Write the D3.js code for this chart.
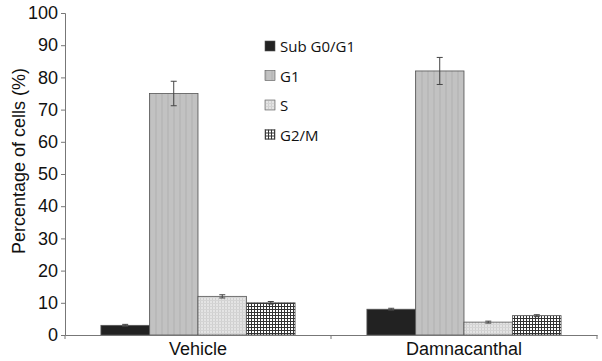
<!DOCTYPE html>
<html lang="en">
<head>
<meta charset="UTF-8">
<title>Cell cycle</title>
<script src="https://cdn.jsdelivr.net/npm/d3@7"></script>
<style>
    body { margin: 0; background: #fff; }
    svg { display: block; }
</style>
</head>
<body>
<div id="chart"></div>
<script>
// data
const groups = ["Vehicle", "Damnacanthal"];
const phases = ["Sub G0/G1", "G1", "S", "G2/M"];
const vehicle = [3, 75, 12, 10];
const vehicleErr = [0.3, 3.8, 0.5, 0.4];
const damna = [8, 82, 4, 6];
const damnaErr = [0.3, 4.2, 0.3, 0.3];
const yTicks = [0, 10, 20, 30, 40, 50, 60, 70, 80, 90, 100];

const width = 602, height = 361;
const margin = { top: 13, right: 5, bottom: 26, left: 65 };

const svg = d3.select("#chart").append("svg")
    .attr("width", width)
    .attr("height", height);

// patterns for the fills
const defs = svg.append("defs");
const pG1 = defs.append("pattern").attr("id", "pG1")
    .attr("patternUnits", "userSpaceOnUse").attr("width", 6).attr("height", 6);
pG1.append("rect").attr("width", 6).attr("height", 6).attr("fill", "#c2c2c2");
pG1.append("rect").attr("width", 2).attr("height", 6).attr("fill", "#b9b9b9");

const pS = defs.append("pattern").attr("id", "pS")
    .attr("patternUnits", "userSpaceOnUse").attr("width", 3).attr("height", 3);
pS.append("rect").attr("width", 3).attr("height", 3).attr("fill", "#e4e4e4");
pS.append("rect").attr("width", 1).attr("height", 3).attr("fill", "#cfcfcf");
pS.append("rect").attr("width", 3).attr("height", 1).attr("fill", "#d4d4d4");

const pG2 = defs.append("pattern").attr("id", "pG2")
    .attr("patternUnits", "userSpaceOnUse").attr("width", 3).attr("height", 3);
pG2.append("rect").attr("width", 3).attr("height", 3).attr("fill", "#ffffff");
pG2.append("rect").attr("width", 1).attr("height", 3).attr("fill", "#333");
pG2.append("rect").attr("width", 3).attr("height", 1).attr("fill", "#333");

const fills = ["#222222", "url(#pG1)", "url(#pS)", "url(#pG2)"];

const x0 = d3.scaleBand()
    .domain(groups)
    .range([margin.left, width - margin.right])
    .paddingInner(0)
    .paddingOuter(0);

const x1 = d3.scaleBand()
    .domain(phases)
    .range([0, x0.bandwidth()])
    .paddingOuter(0.74)
    .paddingInner(0);

const y = d3.scaleLinear()
    .domain([0, 100])
    .range([height - margin.bottom, margin.top]);

const table = groups.map((g, i) => ({
    group: g,
    values: phases.map((p, j) => ({
        phase: p,
        value: i === 0 ? vehicle[j] : damna[j],
        err: i === 0 ? vehicleErr[j] : damnaErr[j],
        idx: j
    }))
}));

// bars
const gGroups = svg.selectAll(".grp")
    .data(table)
    .enter().append("g")
    .attr("class", "grp")
    .attr("transform", d => `translate(${x0(d.group)},0)`);

gGroups.selectAll("rect")
    .data(d => d.values)
    .enter().append("rect")
    .attr("x", d => x1(d.phase))
    .attr("y", d => y(d.value))
    .attr("width", x1.bandwidth())
    .attr("height", d => y(0) - y(d.value))
    .attr("fill", d => fills[d.idx])
    .attr("stroke", "#555")
    .attr("stroke-width", 0.8);

// error bars
const eb = gGroups.selectAll(".err")
    .data(d => d.values)
    .enter().append("g")
    .attr("class", "err")
    .attr("stroke", "#444")
    .attr("stroke-width", 1);
eb.append("line")
    .attr("x1", d => x1(d.phase) + x1.bandwidth() / 2)
    .attr("x2", d => x1(d.phase) + x1.bandwidth() / 2)
    .attr("y1", d => y(d.value + d.err))
    .attr("y2", d => y(d.value - d.err));
eb.append("line")
    .attr("x1", d => x1(d.phase) + x1.bandwidth() / 2 - 3)
    .attr("x2", d => x1(d.phase) + x1.bandwidth() / 2 + 3)
    .attr("y1", d => y(d.value + d.err))
    .attr("y2", d => y(d.value + d.err));
eb.append("line")
    .attr("x1", d => x1(d.phase) + x1.bandwidth() / 2 - 3)
    .attr("x2", d => x1(d.phase) + x1.bandwidth() / 2 + 3)
    .attr("y1", d => y(d.value - d.err))
    .attr("y2", d => y(d.value - d.err));

// y axis
const yAxis = svg.append("g")
    .attr("transform", `translate(${margin.left},0)`)
    .call(d3.axisLeft(y).tickValues(yTicks).tickSize(4).tickPadding(3));
yAxis.selectAll("text")
    .attr("font-family", "Liberation Sans, Arial, sans-serif")
    .attr("font-size", 18)
    .attr("fill", "#111");

// x axis
const xAxis = svg.append("g")
    .attr("transform", `translate(0,${y(0)})`)
    .call(d3.axisBottom(x0).tickSize(0).tickPadding(7));
xAxis.selectAll("text")
    .attr("font-family", "Liberation Sans, Arial, sans-serif")
    .attr("font-size", 18)
    .attr("fill", "#111");
// boundary ticks between groups
xAxis.selectAll(".sep")
    .data(groups.concat(["end"]))
    .enter().append("line")
    .attr("class", "sep")
    .attr("x1", (d, i) => margin.left + i * x0.bandwidth())
    .attr("x2", (d, i) => margin.left + i * x0.bandwidth())
    .attr("y1", 0)
    .attr("y2", 4)
    .attr("stroke", "#777");

svg.selectAll(".domain, .tick line").attr("stroke", "#777");

// y label
svg.append("text")
    .attr("transform", "translate(25,161) rotate(-90)")
    .attr("text-anchor", "middle")
    .attr("font-family", "Liberation Sans, Arial, sans-serif")
    .attr("font-size", 18)
    .attr("fill", "#111")
    .text("Percentage of cells (%)");

// legend
const legend = svg.selectAll(".leg")
    .data(phases)
    .enter().append("g")
    .attr("class", "leg")
    .attr("transform", (d, i) => `translate(265,${41 + i * 29.5})`);
legend.append("rect")
    .attr("width", 10).attr("height", 10)
    .attr("fill", (d, i) => fills[i])
    .attr("stroke", "#555")
    .attr("stroke-width", 0.6);
legend.append("text")
    .attr("x", 15).attr("y", 11)
    .attr("font-family", "Open Sans, sans-serif")
    .attr("font-size", 15)
    .attr("fill", "#111")
    .text(d => d);
</script>
</body>
</html>
